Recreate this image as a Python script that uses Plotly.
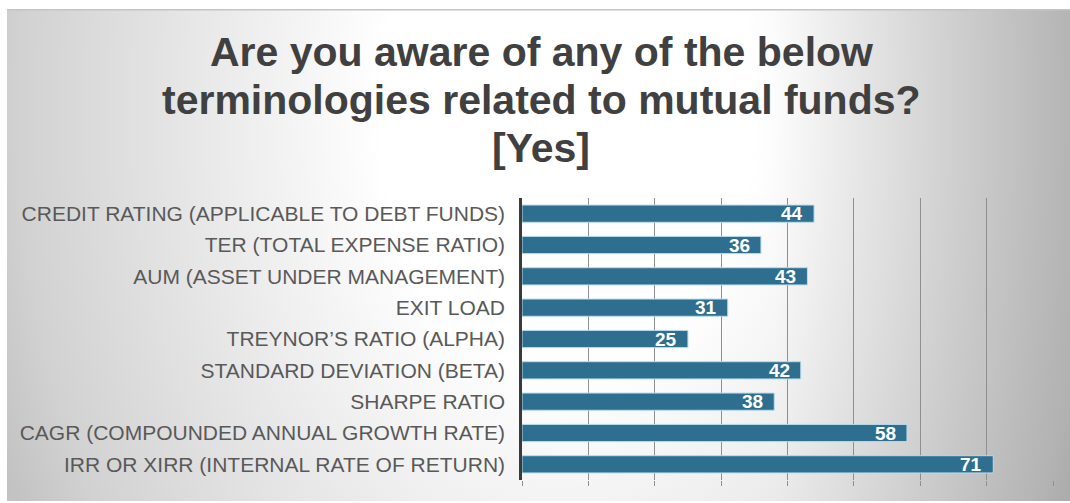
import base64
import plotly.graph_objects as go

# Survey results: respondents aware of each mutual-fund term
terms = [
    "CREDIT RATING (APPLICABLE TO DEBT FUNDS)",
    "TER (TOTAL EXPENSE RATIO)",
    "AUM (ASSET UNDER MANAGEMENT)",
    "EXIT LOAD",
    "TREYNOR’S RATIO (ALPHA)",
    "STANDARD DEVIATION (BETA)",
    "SHARPE RATIO",
    "CAGR (COMPOUNDED ANNUAL GROWTH RATE)",
    "IRR OR XIRR (INTERNAL RATE OF RETURN)",
]
yes_counts = [44, 36, 43, 31, 25, 42, 38, 58, 71]
title_lines = [
    "Are you aware of any of the below",
    "terminologies related to mutual funds?",
    "[Yes]",
]

W, H = 1070, 503
L, R, T, B = 522, 17, 198, 23
PW, PH = W - L - R, H - T - B

BAR = "#2e6e8e"
TEXT = "#595959"
TITLE = "#404040"


def px_x(x):
    return (x - L) / PW


def px_y(y):
    return (H - B - y) / PH


# gray gradient fill for the chart area: bright centre, darker sides
FX0, FY0, FX1, FY1 = 7, 9, 1070, 501
FW, FH = FX1 - FX0, FY1 - FY0
svg = f"""<svg xmlns='http://www.w3.org/2000/svg' width='{FW}' height='{FH}'>
<defs>
<radialGradient id='g' gradientUnits='userSpaceOnUse' cx='560' cy='100' r='620'
 gradientTransform='translate(560,100) scale(1,1.4) translate(-560,-100)'>
<stop offset='0' stop-color='#ffffff'/>
<stop offset='0.3' stop-color='#ffffff'/>
<stop offset='0.88' stop-color='#d2d2d2'/>
<stop offset='1' stop-color='#c2c2c2'/>
</radialGradient>
<linearGradient id='s' x1='0' y1='0' x2='1' y2='0'>
<stop offset='0' stop-color='#000' stop-opacity='0'/>
<stop offset='0.72' stop-color='#000' stop-opacity='0'/>
<stop offset='1' stop-color='#000' stop-opacity='0.16'/>
</linearGradient>
</defs>
<rect width='{FW}' height='{FH}' fill='url(#g)'/>
<rect width='{FW}' height='{FH}' fill='url(#s)'/>
<rect x='0' y='0' width='{FW}' height='1.5' fill='#c4c4c4'/>
</svg>"""
bg_uri = "data:image/svg+xml;base64," + base64.b64encode(svg.encode()).decode()

fig = go.Figure()
fig.add_trace(go.Bar(
    x=yes_counts,
    y=terms,
    orientation="h",
    marker=dict(color=BAR, line=dict(color="#b9dcef", width=1)),
    width=0.55,
    hoverinfo="x+y",
))

# value labels inside the bar ends
for term, v in zip(terms, yes_counts):
    fig.add_annotation(
        x=v, y=term, xref="x", yref="y",
        text=str(v), showarrow=False,
        xanchor="right", yanchor="middle", xshift=-9,
        font=dict(family="Liberation Sans", size=19, color="white", weight="bold"),
    )

# three-line heading, one annotation per line for tighter leading
for i, line in enumerate(title_lines):
    fig.add_annotation(
        x=px_x(541), y=px_y(52 + 48 * i), xref="paper", yref="paper",
        text=line, showarrow=False, xanchor="center", yanchor="middle",
        font=dict(family="Liberation Sans", size=41, color=TITLE, weight="bold"),
    )

fig.update_layout(
    width=W, height=H,
    margin=dict(l=L, r=R, t=T, b=B, pad=0),
    paper_bgcolor="white",
    plot_bgcolor="rgba(0,0,0,0)",
    showlegend=False,
    bargap=0.45,
    images=[dict(
        source=bg_uri, xref="paper", yref="paper",
        x=px_x(FX0), y=px_y(FY0),
        sizex=px_x(FX1) - px_x(FX0), sizey=px_y(FY0) - px_y(FY1),
        xanchor="left", yanchor="top", sizing="stretch", layer="below",
    )],
    xaxis=dict(
        range=[0, 80], dtick=10, showticklabels=False,
        showgrid=True, gridcolor="#8f8f8f", gridwidth=1,
        ticks="outside", ticklen=5, tickcolor="#8f8f8f",
        zeroline=False, showline=False, fixedrange=True,
    ),
    yaxis=dict(
        autorange="reversed",
        showline=True, linecolor="#3a3a3a", linewidth=2.5,
        ticks="", ticklabelstandoff=10,
        tickfont=dict(family="Liberation Sans", size=21, color=TEXT),
        showgrid=False, fixedrange=True,
    ),
)

fig.write_html("out.html")
